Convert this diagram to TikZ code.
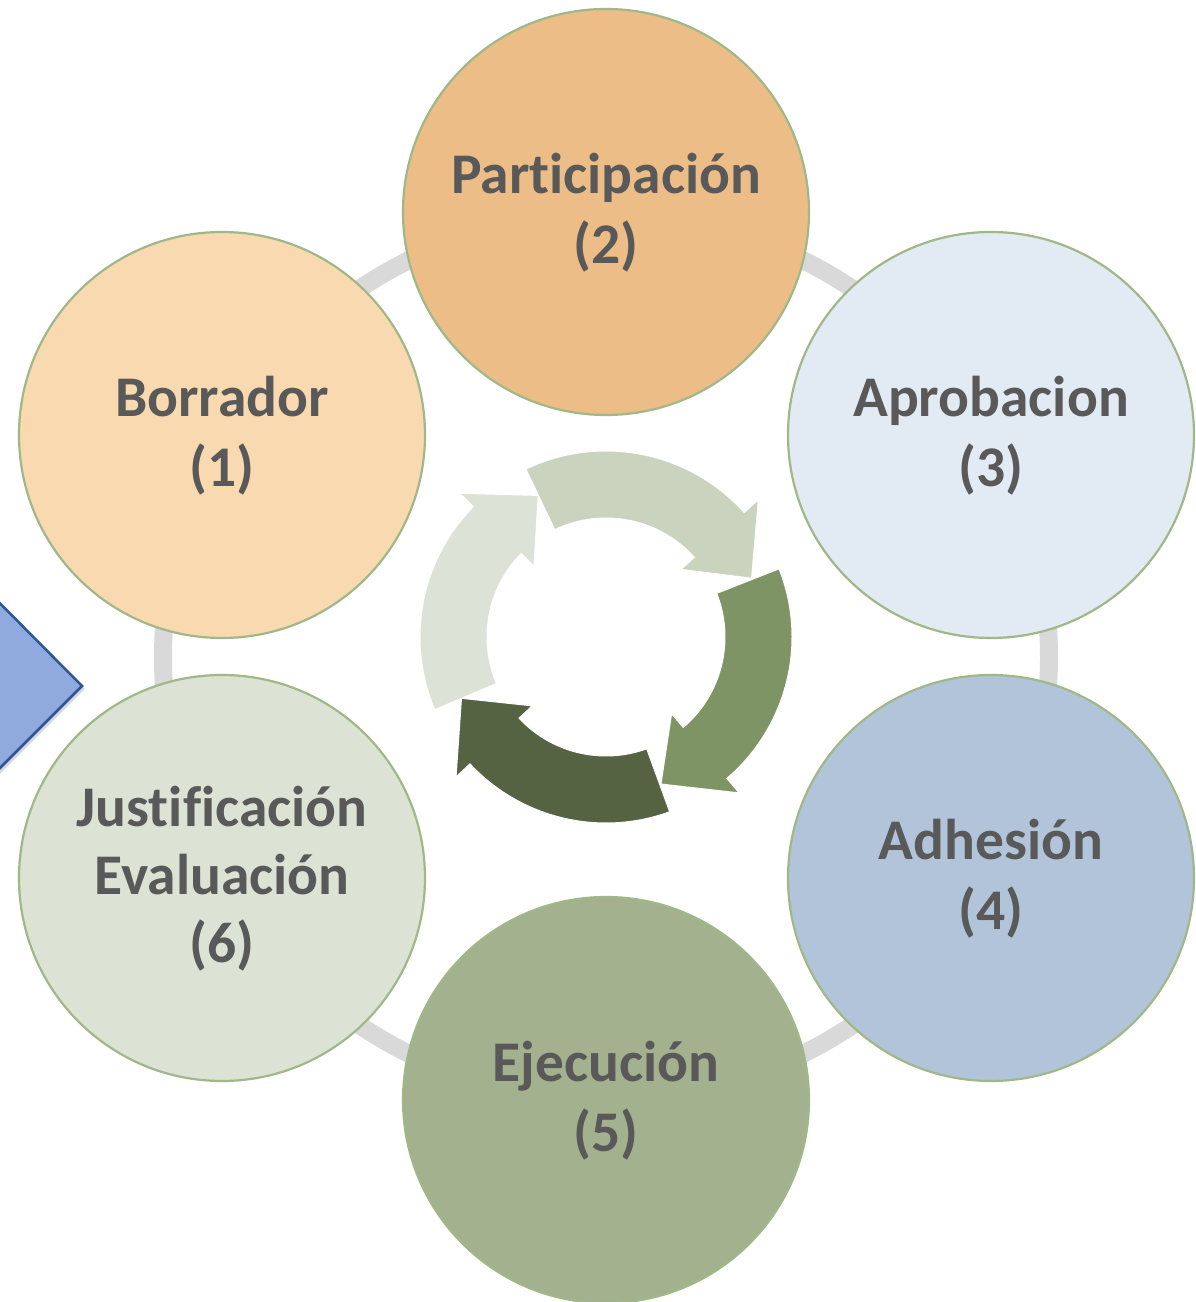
\documentclass[tikz,border=0pt]{standalone}
\usepackage{fontspec}
\setmainfont{Carlito}[Ligatures=CommonOff]
\usetikzlibrary{shadows}
\definecolor{ringgray}{HTML}{D9D9D9}
\definecolor{bordergreen}{HTML}{A0B888}
\definecolor{txtgray}{HTML}{595959}
\definecolor{cA}{HTML}{F9D9B0}
\definecolor{cB}{HTML}{ECBD87}
\definecolor{cC}{HTML}{E2EAF3}
\definecolor{cD}{HTML}{B2C4DA}
\definecolor{cE}{HTML}{A3B18E}
\definecolor{cF}{HTML}{DCE2D4}
\definecolor{arA}{HTML}{C9D3BE}
\definecolor{arB}{HTML}{7F9464}
\definecolor{arC}{HTML}{556343}
\definecolor{arD}{HTML}{DCE2D6}
\definecolor{chevfill}{HTML}{8FAADC}
\definecolor{chevdraw}{HTML}{2F5496}
\tikzset{
  stagecircle/.style={circle, draw=bordergreen, line width=2.2pt, minimum size=406pt, inner sep=0pt},
  stagetext/.style={anchor=base, text=txtgray, font=\fontsize{57.5}{69}\selectfont\bfseries, inner sep=0pt},
  cycarrow/.style={draw=white, line width=1pt},
}
\begin{document}
\begin{tikzpicture}[x=1pt,y=1pt]
\useasboundingbox (0,0) rectangle (1196,1302);
\begin{scope}
\clip (0,0) rectangle (1196,1302);
% background ring
\draw[ringgray, line width=18pt] (606,645) circle[radius=443];
% circles
\node[stagecircle, fill=cA] (c1) at (222,867) {};
\node[stagecircle, fill=cB] (c2) at (606,1090) {};
\node[stagecircle, fill=cC] (c3) at (991,867) {};
\node[stagecircle, fill=cD] (c4) at (991,424) {};
\node[stagecircle, fill=cE] (c5) at (606,202) {};
\node[stagecircle, fill=cF] (c6) at (222,424) {};
% labels
\node[stagetext] (t1a) at (222,885) {Borrador};
\node[stagetext] (t1b) at (222,815) {(1)};
\node[stagetext] (t2a) at (606,1108) {Participación};
\node[stagetext] (t2b) at (606,1038) {(2)};
\node[stagetext] (t3a) at (991,885) {Aprobacion};
\node[stagetext] (t3b) at (991,815) {(3)};
\node[stagetext] (t4a) at (991,442) {Adhesión};
\node[stagetext] (t4b) at (991,372) {(4)};
\node[stagetext] (t5a) at (606,220) {Ejecución};
\node[stagetext] (t5b) at (606,150) {(5)};
\node[stagetext] (t6a) at (222,475) {Justificación};
\node[stagetext] (t6b) at (222,407) {Evaluación};
\node[stagetext] (t6c) at (222,339) {(6)};
% central cycle arrows
\begin{scope}[shift={(606,665)}]
\fill[arA, cycarrow] (115.5:186) arc[start angle=115.5, end angle=42, radius=186] -- (42:205) -- (22:157) -- (42:101) -- (42:119) arc[start angle=42, end angle=115.5, radius=119] -- cycle;
\fill[arB, cycarrow] (21.5:186) arc[start angle=21.5, end angle=-49.5, radius=186] -- (-49.5:205) -- (-69.5:157) -- (-49.5:101) -- (-49.5:119) arc[start angle=-49.5, end angle=21.5, radius=119] -- cycle;
\fill[arC, cycarrow] (-70:186) arc[start angle=-70, end angle=-137, radius=186] -- (-137:205) -- (-157:157) -- (-137:101) -- (-137:119) arc[start angle=-137, end angle=-70, radius=119] -- cycle;
\fill[arD, cycarrow] (203:186) arc[start angle=203, end angle=135.5, radius=186] -- (135.5:205) -- (115.6:157) -- (135.5:101) -- (135.5:119) arc[start angle=135.5, end angle=203, radius=119] -- cycle;
\end{scope}
% chevron on the left
\filldraw[fill=chevfill, draw=chevdraw, line width=2.5pt, line join=miter,
  drop shadow={opacity=0.3, shadow xshift=3pt, shadow yshift=-3pt}]
  (-40,739) -- (82,616) -- (-40,494) -- cycle;
\end{scope}
\end{tikzpicture}
\end{document}
